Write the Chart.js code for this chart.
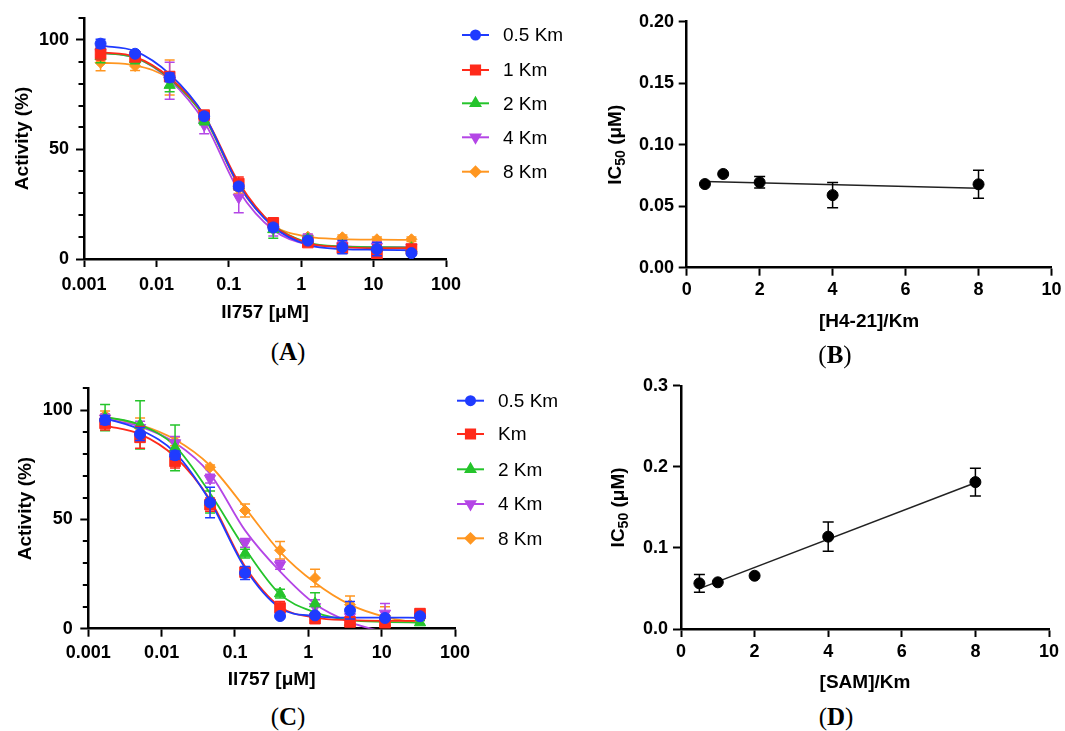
<!DOCTYPE html>
<html><head><meta charset="utf-8">
<script src="https://cdn.jsdelivr.net/npm/chart.js@4.4.1/dist/chart.umd.min.js"></script>
<style>
html,body{margin:0;padding:0;background:#fff;}
body{width:1065px;height:731px;position:relative;overflow:hidden;}
canvas{position:absolute;}
.lbl{position:absolute;font-family:"Liberation Serif","DejaVu Serif",serif;font-size:25px;color:#000;transform:translate(-50%,-50%);white-space:nowrap;}
</style></head><body>
<canvas id="cA" width="600" height="330" style="left:0;top:0"></canvas>
<canvas id="cB" width="465" height="345" style="left:600px;top:0"></canvas>
<canvas id="cC" width="600" height="330" style="left:0;top:370px"></canvas>
<canvas id="cD" width="465" height="330" style="left:600px;top:370px"></canvas>
<div class="lbl" style="left:288px;top:352px">(<b>A</b>)</div>
<div class="lbl" style="left:835px;top:355px">(<b>B</b>)</div>
<div class="lbl" style="left:288px;top:717px">(<b>C</b>)</div>
<div class="lbl" style="left:836px;top:717px">(<b>D</b>)</div>
<script>
// ---------- DATA ----------
const conc = [0.001694, 0.00508, 0.01524, 0.04572, 0.1372, 0.4115, 1.235, 3.704, 11.11, 33.33];
const namesA = ['0.5 Km', '1 Km', '2 Km', '4 Km', '8 Km'];
const namesC = ['0.5 Km', 'Km', '2 Km', '4 Km', '8 Km'];
const logTicks = [0.001, 0.01, 0.1, 1, 10, 100];
const logTickLabels = ['0.001', '0.01', '0.1', '1', '10', '100'];
const actTicks = [0, 50, 100];
const actTickLabels = ['0', '50', '100'];
const actMinorTicks = [10, 20, 30, 40, 60, 70, 80, 90, 110];

// Panel A: measured activity, error, fitted curve
const a05 = [98.2, 93.6, 82.8, 65.1, 33.1, 14.4, 8.4, 5.4, 4.5, 2.7];
const a05Err = [2, 1, 2, 1.5, 1.5, 1.5, 1, 3, 3, 1];
const a05Fit = [97.3, 94.8, 84.3, 65.6, 33.7, 14.7, 6.4, 4.5, 4.2, 4.0];
const a1 = [93.7, 92.2, 83.2, 65.6, 34.4, 16.5, 7.5, 4.9, 2.4, 4.5];
const a1Err = [3, 1.5, 2, 1.5, 3, 2, 1.5, 1.5, 4, 1.5];
const a1Fit = [94.3, 92.2, 82.8, 65.6, 34.9, 15.4, 7.2, 5.4, 4.9, 4.9];
const a2 = [92.5, 91, 79.3, 63.2, 33.4, 13.5, 9, 6, 4.9, 4.9];
const a2Err = [3, 2, 3, 2, 2, 4, 1.5, 1, 1, 1];
const a2Fit = [94, 91.8, 82.3, 64.8, 34.1, 15.4, 7.5, 5.7, 5.4, 5.2];
const a4 = [94, 91.8, 81.3, 61.1, 28.1, 13.5, 9.4, 6, 5.7, 5.4];
const a4Err = [2, 2, 8.4, 4, 7, 3, 2, 2, 2, 1];
const a4Fit = [94, 91.8, 81.7, 62.6, 31.1, 13.2, 6.7, 5.7, 5.4, 5.4];
const a8 = [89.5, 88, 82.8, 64, 31.9, 14.7, 10.2, 9.9, 9, 9];
const a8Err = [3.7, 2, 8, 2, 2, 1.5, 1, 1, 1, 1];
const a8Fit = [89.5, 88.3, 82, 64.8, 33.4, 15.4, 10.2, 9.1, 8.8, 8.7];

// Panel C
const c05 = [95.5, 89.1, 79.4, 57.8, 25.5, 5.8, 6.1, 8.4, 4.9, 5.7];
const c05Err = [2, 3, 2, 7, 3, 1, 1, 4, 1, 1];
const c05Fit = [96.3, 91.1, 80.6, 58.3, 27.7, 9.5, 5.8, 5.1, 5.1, 5.0];
const c1 = [94, 87.6, 76.6, 56.8, 25.9, 9.5, 4.6, 3.1, 2.7, 6.9];
const c1Err = [3, 5, 3, 3, 2, 3, 1, 1, 1, 2];
const c1Fit = [93, 89.1, 78.7, 59, 28.5, 10.1, 5.1, 3.9, 3.6, 3.6];
const c2 = [96.6, 93.3, 82.8, 58, 34.4, 16.1, 11.5, 3, 2.8, 2.8];
const c2Err = [6, 11, 10.5, 5, 2, 2, 5, 1, 1, 1];
const c2Fit = [97, 93.3, 83.6, 62, 36.7, 15.8, 7.5, 3.9, 3.1, 2.8];
const c4 = [96.3, 92, 85, 68.7, 39.3, 29.2, 10, 5.4, 7, 5.7];
const c4Err = [2, 3, 3, 2, 2, 2, 3.3, 3, 4.5, 2];
const c4Fit = [96, 92.5, 85.1, 70.9, 45, 26.2, 11.3, 3, -1.5, -4];
const c8 = [97.7, 91.8, 85.8, 73.9, 54.1, 35.9, 23.2, 11, 6, 5.7];
const c8Err = [2, 4.7, 2, 1, 3, 4, 4, 4, 4, 1];
const c8Fit = [97, 93.3, 86.6, 74.7, 55.3, 35.2, 21, 11, 5.4, 2.5];

// Panels B and D
const ratio = [0.5, 1, 2, 4, 8];
const linTicks = [0, 2, 4, 6, 8, 10];
const linTickLabels = ['0', '2', '4', '6', '8', '10'];
const bIC50 = [0.068, 0.0762, 0.0694, 0.059, 0.0678];
const bErr = [0, 0, 0.0047, 0.0103, 0.0114];
const bFitX = [0.5, 8];
const bFitY = [0.0700, 0.0645];
const bYTicks = [0, 0.05, 0.10, 0.15, 0.20];
const bYTickLabels = ['0.00', '0.05', '0.10', '0.15', '0.20'];
const dIC50 = [0.0563, 0.0576, 0.0657, 0.1139, 0.1812];
const dErr = [0.011, 0, 0, 0.018, 0.017];
const dFitX = [0.5, 8];
const dFitY = [0.0498, 0.1804];
const dYTicks = [0, 0.1, 0.2, 0.3];
const dYTickLabels = ['0.0', '0.1', '0.2', '0.3'];

// ---------- STYLE ----------
const FONT = "'Liberation Sans', Arial, Helvetica, sans-serif";
const styles = [
  {color: '#1f3bff', point: 'circle', r: 5.5, rot: 0, lr: 4.5},
  {color: '#ff2a1a', point: 'rect', r: 7.5, rot: 0, lr: 6.5},
  {color: '#25c42b', point: 'triangle', r: 6.5, rot: 0, lr: 5.5},
  {color: '#b446e6', point: 'triangle', r: 6.5, rot: 180, lr: 5.5},
  {color: '#ff9620', point: 'rectRot', r: 5.5, rot: 0, lr: 5}
];

function drawShape(ctx, style, x, y, r, rot) {
  if (Chart.helpers && Chart.helpers.drawPoint) {
    Chart.helpers.drawPoint(ctx, {pointStyle: style, radius: r, rotation: rot, borderWidth: 1}, x, y);
    return;
  }
  ctx.beginPath(); ctx.arc(x, y, r, 0, Math.PI * 2); ctx.fill();
}

const errorBarPlugin = {
  id: 'errbars',
  beforeDatasetDraw(chart, args, opts) {
    const ds = chart.data.datasets[args.index];
    if (!ds.errors) return;
    const ctx = chart.ctx, xs = chart.scales.x, ys = chart.scales.y, a = chart.chartArea;
    ctx.save();
    ctx.beginPath(); ctx.rect(a.left, a.top - 20, a.right - a.left, a.bottom - a.top + 20); ctx.clip();
    ctx.strokeStyle = ds.borderColor; ctx.lineWidth = opts.width || 1.5;
    const cap = opts.cap || 5;
    ds.data.forEach((p, j) => {
      const e = ds.errors[j];
      if (!e) return;
      const x = xs.getPixelForValue(p.x);
      const y1 = ys.getPixelForValue(p.y + e), y2 = ys.getPixelForValue(p.y - e);
      ctx.beginPath();
      ctx.moveTo(x, y1); ctx.lineTo(x, y2);
      ctx.moveTo(x - cap, y1); ctx.lineTo(x + cap, y1);
      ctx.moveTo(x - cap, y2); ctx.lineTo(x + cap, y2);
      ctx.stroke();
    });
    ctx.restore();
  }
};

const minorTickPlugin = {
  id: 'minorTicks',
  afterDraw(chart, args, opts) {
    if (!opts || !opts.values) return;
    const ctx = chart.ctx, ys = chart.scales.y, left = chart.chartArea.left;
    ctx.save(); ctx.strokeStyle = '#000'; ctx.lineWidth = 2;
    opts.values.forEach(v => {
      const y = Math.round(ys.getPixelForValue(v));
      ctx.beginPath(); ctx.moveTo(left - 5.5, y); ctx.lineTo(left, y); ctx.stroke();
    });
    ctx.restore();
  }
};

const sideLegendPlugin = {
  id: 'sideLegend',
  afterDraw(chart, args, opts) {
    if (!opts || !opts.names) return;
    const ctx = chart.ctx;
    ctx.save();
    opts.names.forEach((name, i) => {
      const st = styles[i], y = opts.ys[i];
      ctx.strokeStyle = st.color; ctx.fillStyle = st.color; ctx.lineWidth = 2;
      ctx.beginPath(); ctx.moveTo(opts.x1, y); ctx.lineTo(opts.x2, y); ctx.stroke();
      drawShape(ctx, st.point, (opts.x1 + opts.x2) / 2, y, st.lr, st.rot);
      ctx.fillStyle = '#000';
      ctx.font = '19px ' + FONT;
      ctx.textBaseline = 'middle'; ctx.textAlign = 'left';
      ctx.fillText(name, opts.xText, y + 1);
    });
    ctx.restore();
  }
};

// y-axis title with a real subscript (IC50)
const subTitlePlugin = {
  id: 'subTitle',
  afterDraw(chart, args, opts) {
    if (!opts || !opts.parts) return;
    const ctx = chart.ctx, a = chart.chartArea;
    ctx.save();
    ctx.translate(opts.x, (a.top + a.bottom) / 2);
    ctx.rotate(-Math.PI / 2);
    ctx.fillStyle = '#000'; ctx.textBaseline = 'middle'; ctx.textAlign = 'left';
    let total = 0;
    opts.parts.forEach(p => { ctx.font = 'bold ' + p.size + 'px ' + FONT; p.w = ctx.measureText(p.t).width; total += p.w; });
    let x = -total / 2;
    opts.parts.forEach(p => {
      ctx.font = 'bold ' + p.size + 'px ' + FONT;
      ctx.fillText(p.t, x, p.dy || 0);
      x += p.w;
    });
    ctx.restore();
  }
};

function axis(c) {
  return {
    type: c.type, min: c.min, max: c.max, position: c.position,
    afterBuildTicks: s => { s.ticks = c.ticks.map(v => ({value: v})); },
    afterFit: s => { if (c.position === 'left') s.width = c.size; else s.height = c.size; },
    ticks: {autoSkip: false, maxRotation: 0, padding: c.tickPad, color: '#000',
      font: {family: FONT, size: 18, weight: 'bold'}, callback: (v, i) => c.labels[i]},
    grid: {display: true, drawOnChartArea: false, drawTicks: true, tickLength: 8, tickWidth: 2, tickColor: '#000'},
    border: {display: true, color: '#000', width: 2.5},
    title: {display: c.title !== '', text: c.title, color: '#000', font: {family: FONT, size: 19, weight: 'bold'},
      padding: {top: c.titlePad, bottom: c.titlePad}}
  };
}

function doseDatasets(vals, errs, fits) {
  const pts = vals.map((v, i) => ({
    data: conc.map((x, j) => ({x: x, y: v[j]})),
    errors: errs[i], showLine: false,
    pointStyle: styles[i].point, pointRadius: styles[i].r, pointRotation: styles[i].rot,
    pointBorderWidth: 1, backgroundColor: styles[i].color, borderColor: styles[i].color
  }));
  const lines = fits.map((f, i) => ({
    data: conc.map((x, j) => ({x: x, y: f[j]})),
    showLine: true, pointRadius: 0, borderColor: styles[i].color, borderWidth: 1.8,
    cubicInterpolationMode: 'monotone', fill: false
  }));
  return pts.concat(lines);
}

function icDatasets(xs, ys, errs, fx, fy) {
  return [
    {data: xs.map((x, i) => ({x: x, y: ys[i]})), errors: errs, showLine: false,
      pointStyle: 'circle', pointRadius: 5.5, backgroundColor: '#000', borderColor: '#000', pointBorderWidth: 1},
    {data: fx.map((x, i) => ({x: x, y: fy[i]})), showLine: true, pointRadius: 0,
      borderColor: '#222', borderWidth: 1.5, fill: false}
  ];
}

Chart.defaults.font.family = FONT;
const common = {responsive: false, animation: false, events: [], devicePixelRatio: 1};

function doseChart(id, datasets, pad, yCfg, xCfg, legend) {
  return new Chart(document.getElementById(id), {
    type: 'line',
    data: {datasets: datasets},
    options: Object.assign({}, common, {
      layout: {padding: pad},
      scales: {
        x: axis(Object.assign({type: 'logarithmic', min: 0.001, max: 100, position: 'bottom',
          ticks: logTicks, labels: logTickLabels, title: 'Il757 [μM]'}, xCfg)),
        y: axis(Object.assign({type: 'linear', min: 0, max: 110, position: 'left',
          ticks: actTicks, labels: actTickLabels, title: 'Activity (%)'}, yCfg))
      },
      plugins: {legend: {display: false}, tooltip: {enabled: false},
        errbars: {width: 1.5, cap: 5}, minorTicks: {values: actMinorTicks}, sideLegend: legend}
    }),
    plugins: [errorBarPlugin, minorTickPlugin, sideLegendPlugin]
  });
}

function icChart(id, datasets, pad, yCfg, xCfg, titleX) {
  return new Chart(document.getElementById(id), {
    type: 'line',
    data: {datasets: datasets},
    options: Object.assign({}, common, {
      layout: {padding: pad},
      scales: {
        x: axis(Object.assign({type: 'linear', min: 0, max: 10, position: 'bottom',
          ticks: linTicks, labels: linTickLabels}, xCfg)),
        y: axis(Object.assign({type: 'linear', min: 0, position: 'left', title: ''}, yCfg))
      },
      plugins: {legend: {display: false}, tooltip: {enabled: false}, errbars: {width: 1.5, cap: 5.5},
        subTitle: {x: titleX, parts: [{t: 'IC', size: 19}, {t: '50', size: 14, dy: 5}, {t: ' (μM)', size: 19}]}}
    }),
    plugins: [errorBarPlugin, subTitlePlugin]
  });
}

doseChart('cA', doseDatasets([a05, a1, a2, a4, a8], [a05Err, a1Err, a2Err, a4Err, a8Err], [a05Fit, a1Fit, a2Fit, a4Fit, a8Fit]),
  {top: 14, right: 154, left: 0, bottom: 0},
  {size: 84, tickPad: 7, titlePad: 11},
  {size: 71, tickPad: 7, titlePad: 5.6},
  {names: namesA, x1: 462, x2: 489, xText: 503, ys: [35, 70, 103.3, 137.3, 171.7]});

doseChart('cC', doseDatasets([c05, c1, c2, c4, c8], [c05Err, c1Err, c2Err, c4Err, c8Err], [c05Fit, c1Fit, c2Fit, c4Fit, c8Fit]),
  {top: 12.7, right: 145, left: 0, bottom: 0},
  {size: 88.3, tickPad: 7.6, titlePad: 14},
  {size: 71.3, tickPad: 5.5, titlePad: 8.6},
  {names: namesC, x1: 457, x2: 484, xText: 498, ys: [30.7, 64, 99.3, 134, 168.3]});

icChart('cB', icDatasets(ratio, bIC50, bErr, bFitX, bFitY),
  {top: 21.7, right: 10, left: 0, bottom: 0},
  {max: 0.2, ticks: bYTicks, labels: bYTickLabels, size: 86.7, tickPad: 4.7, titlePad: 3.6},
  {size: 77.3, tickPad: 3.5, titlePad: 11.6, title: '[H4-21]/Km'}, 16);

icChart('cD', icDatasets(ratio, dIC50, dErr, dFitX, dFitY),
  {top: 14, right: 16, left: 0, bottom: 0},
  {max: 0.3, ticks: dYTicks, labels: dYTickLabels, size: 81, tickPad: 5, titlePad: 7.6},
  {size: 71, tickPad: 4.2, titlePad: 5.6, title: '[SAM]/Km'}, 19);
</script>
</body></html>
